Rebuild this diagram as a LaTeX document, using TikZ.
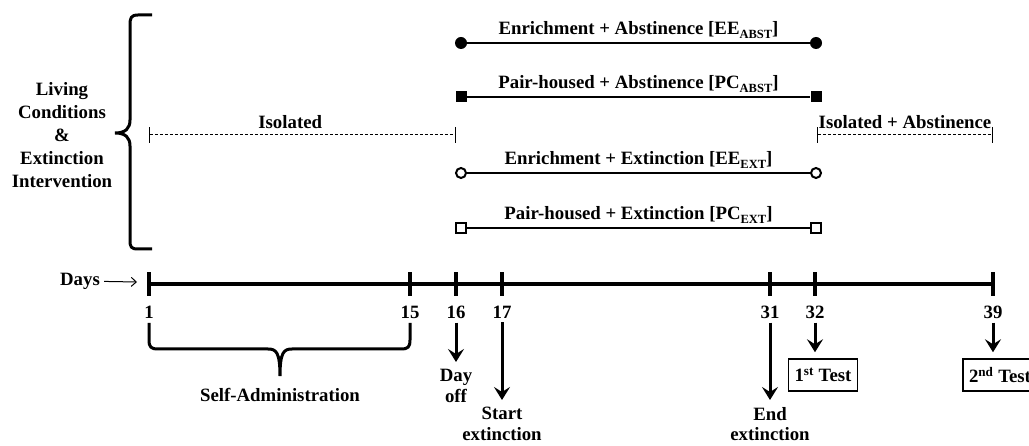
\documentclass[tikz,border=0pt]{standalone}
\usepackage{fontspec}
\setmainfont{Liberation Serif}
\usetikzlibrary{arrows.meta}
\newcommand{\lowidx}[1]{\raisebox{-3.5pt}{\fontsize{12.5}{12.5}\selectfont #1}}

\begin{document}
\begin{tikzpicture}[x=1pt, y=-1pt, font={\fontsize{18.8}{23}\selectfont\bfseries}, inner sep=1pt,
    dot/.style={circle, fill, minimum size=12pt, inner sep=0pt},
    sqr/.style={rectangle, fill, minimum size=11pt, inner sep=0pt},
    odot/.style={circle, draw, fill=white, line width=2pt, minimum size=10pt, inner sep=0pt},
    osqr/.style={rectangle, draw, fill=white, line width=2pt, minimum size=10pt, inner sep=0pt},
    cond/.style={line width=2pt},
    lbl/.style={anchor=base, yshift=8pt},
    iso/.style={line width=1pt, dash pattern=on 3pt off 2pt, {Bar[width=16pt]}-{Bar[width=16pt]}},
    daytick/.style={fill, minimum width=3.5pt, minimum height=24pt, inner sep=0pt},
    arr/.style={line width=3pt, -{Stealth[length=13pt,width=16pt,inset=5pt]}, shorten <=3pt, shorten >=6pt},
    two/.style={align=center, anchor=north, font={\fontsize{18.8}{20.5}\selectfont\bfseries}},
    brc/.style={line width=3pt},
    testbox/.style={draw, line width=1.5pt, minimum height=32pt, inner xsep=6pt}]
    \useasboundingbox (0,0) rectangle (1029,446);
    \node[align=center] (k) at (62,135) {Living\\Conditions\\\&\\Extinction\\Intervention};
    \draw[brc] (152,15) -- (138,15) .. controls (131,15) and (130,18) .. (130,25) -- (130,120) .. controls (130,128) and (126,133) .. (115,133) .. controls (126,133) and (130,138) .. (130,146) -- (130,240) .. controls (130,247) and (131,249) .. (138,249) -- (152,249);
    \node[dot] (a1) at (461,43) {};
    \node[dot] (a2) at (816,43) {};
    \node[sqr] (b1) at (461,97) {};
    \node[sqr] (b2) at (816,97) {};
    \node[odot] (c1) at (461,173) {};
    \node[odot] (c2) at (816,173) {};
    \node[osqr] (d1) at (461,228) {};
    \node[osqr] (d2) at (816,228) {};
    \draw[cond] (a1) to node[lbl] {Enrichment + Abstinence [EE\lowidx{ABST}]} (a2);
    \draw[cond] (b1) to node[lbl] {Pair-housed + Abstinence [PC\lowidx{ABST}]} (b2);
    \draw[cond] (c1) to node[lbl] {Enrichment + Extinction [EE\lowidx{EXT}]} (c2);
    \draw[cond] (d1) to node[lbl] {Pair-housed + Extinction [PC\lowidx{EXT}]} (d2);
    \coordinate (i1) at (149,135);
    \coordinate (i2) at (456,135);
    \coordinate (i3) at (817,135);
    \coordinate (i4) at (993,135);
    \draw[iso] (i1) to node[lbl, yshift=-2pt, pos=0.46] {Isolated} (i2);
    \draw[iso] (i3) to node[lbl, yshift=-2pt] {Isolated + Abstinence} (i4);
    \node (z) at (80,281) {Days};
    \coordinate (z1) at (137,282);
    \draw[line width=1pt, -{Straight Barb[length=5pt,width=9pt]}, shorten <=3pt] (z) to (z1);
    \node[daytick] (t1) at (149,284) {};
    \node[daytick] (t15) at (410,284) {};
    \node[daytick] (t16) at (456,284) {};
    \node[daytick] (t17) at (502,284) {};
    \node[daytick] (t31) at (770,284) {};
    \node[daytick] (t32) at (815,284) {};
    \node[daytick] (t39) at (993,284) {};
    \draw[line width=3.5pt] (t1.center) to (t39.center);
    \node (n1) at (149,312) {1};
    \node (n15) at (410,312) {15};
    \node (n16) at (456,312) {16};
    \node (n17) at (502,312) {17};
    \node (n31) at (770,312) {31};
    \node (n32) at (815,312) {32};
    \node (n39) at (993,312) {39};
    \draw[brc] (149,323) -- (149,340) .. controls (149,347) and (151,349) .. (158,349) -- (268,349) .. controls (276,349) and (280,352) .. (280,376) .. controls (280,352) and (284,349) .. (292,349) -- (401,349) .. controls (408,349) and (410,347) .. (410,340) -- (410,323);
    \node (s) at (280,395) {Self-Administration};
    \node[two] (e) at (456,368) {Day\\off};
    \node[two] (f) at (502,406) {Start\\extinction};
    \node[two] (g) at (770,406) {End\\extinction};
    \node[testbox] (h) at (823,375) {1\textsuperscript{st} Test};
    \node[testbox] (m) at (1000,375) {2\textsuperscript{nd} Test};
    \draw[arr] (n16) to (e);
    \draw[arr] (n17) to (f);
    \draw[arr] (n31) to (g);
    \draw[arr] (n32) to (n32 |- h.north);
    \draw[arr] (n39) to (n39 |- m.north);
\end{tikzpicture}
\end{document}
